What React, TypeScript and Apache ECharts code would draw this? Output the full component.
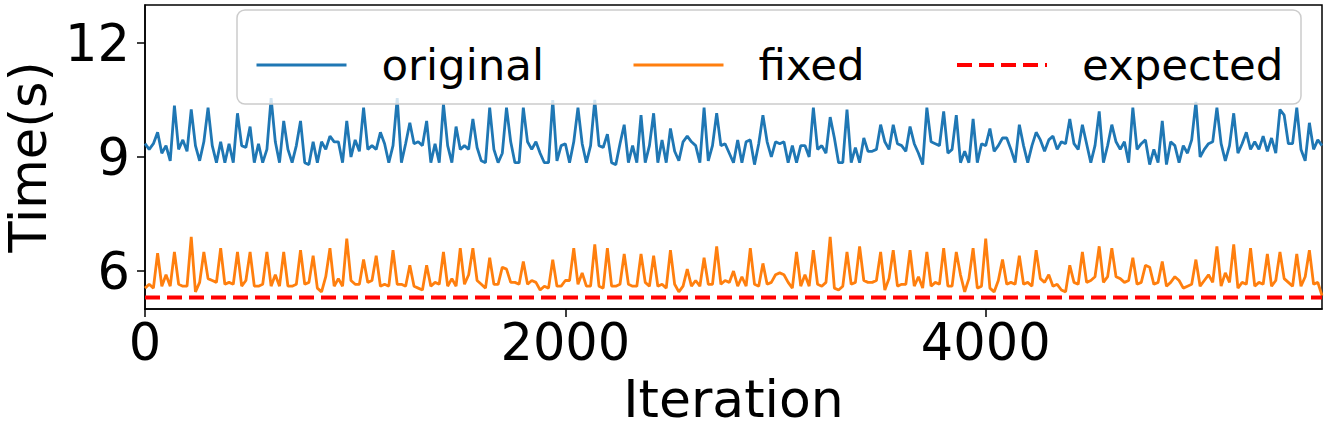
import React, { useEffect, useRef } from "react";
import * as echarts from "echarts";

// iteration step between recorded samples
const step = 20;

const original: number[] = [
  9.35, 9.2, 9.35, 9.65, 9.1, 9.3, 8.9, 10.35, 9.2, 9.45,
  9.15, 10.25, 9.3, 8.9, 9.4, 10.3, 9.3, 8.85, 9.4, 8.85,
  9.35, 8.85, 10.15, 9.3, 9.25, 9.8, 8.85, 9.35, 8.85, 9.2,
  10.55, 9.4, 8.85, 9.95, 9.2, 8.85, 9.3, 9.95, 8.85, 8.8,
  9.4,
  8.85, 9.4, 9.2, 9.55, 9.4, 9.4, 8.85, 9.95, 9.0, 9.45,
  9.15, 10.3, 9.2, 9.3, 9.2, 9.65, 9.35, 8.85, 9.3, 10.55,
  8.85, 9.35, 9.9, 9.35, 9.4, 9.3, 9.95, 8.85, 9.35, 8.85,
  10.4, 9.3, 8.85, 9.8, 9.2, 9.3, 9.2, 10.0, 9.25, 8.9,
  8.85, 10.3, 9.2, 8.85, 9.1, 10.3, 9.4, 8.85, 8.85, 10.3,
  9.4, 9.2, 9.4, 9.1, 8.85, 8.85, 10.5, 8.9, 9.3, 9.35,
  8.85, 9.4, 10.3, 9.35, 8.85, 9.3, 10.5, 9.3, 9.25, 9.6,
  8.85, 8.8, 9.35, 9.85, 8.85, 9.3, 8.85, 10.1, 8.85, 9.3,
  10.15, 8.85, 9.45, 8.85, 9.75, 9.15, 8.9, 9.4, 9.55, 9.4,
  9.3, 8.85, 10.3, 8.9, 9.3, 10.15, 9.3, 9.35, 9.1, 8.85,
  9.45, 8.85, 9.4, 9.45, 8.8, 9.35, 10.1, 9.4, 9.0, 9.4,
  9.35, 9.4, 8.85, 9.3, 8.85, 9.3, 9.3, 9.0, 10.3, 9.2,
  9.3, 9.1, 10.05, 9.5, 8.85, 8.85, 10.25, 8.85, 9.25, 8.85,
  9.5, 9.15, 9.15, 9.2, 9.85, 9.4, 9.2, 9.85, 9.35, 9.3,
  9.15, 9.8, 9.35, 9.1, 8.8, 10.3, 9.4, 9.35, 9.3, 10.2,
  9.1, 9.2, 10.1, 8.85, 9.15, 8.85, 10.0, 8.85, 9.35, 9.3,
  9.75, 9.15, 9.3, 9.5, 9.5, 9.2, 8.85, 9.85, 9.3, 8.85,
  9.3, 9.65, 9.45, 9.15, 9.45, 9.55, 9.2, 9.4, 9.35, 10.0,
  9.35, 9.2, 9.85, 9.35, 8.85, 9.3, 10.2, 8.85, 9.3, 9.85,
  9.4, 9.2, 9.4, 8.85, 10.3, 9.2, 9.35, 9.45, 8.8, 9.2,
  8.85, 9.95, 8.8, 9.4, 9.3, 8.85, 9.3, 9.1, 9.45, 10.45,
  9.0, 9.2, 9.35, 9.4, 10.3, 9.35, 8.9, 9.3, 10.15, 9.1,
  9.35, 9.65, 9.2, 9.4, 9.2, 9.55, 9.15, 9.5, 9.1, 10.25,
  10.1, 9.35, 9.35, 10.3, 9.2, 8.9, 9.9, 9.2, 9.45, 9.3,
];

const fixed: number[] = [
  5.55, 5.65, 5.55, 6.47, 5.6, 5.9, 5.6, 6.5, 5.65, 5.6,
  5.6, 6.9, 5.45, 5.7, 6.5, 5.8, 5.75, 5.7, 6.6, 5.65,
  5.7, 5.65, 6.5, 5.6, 5.75, 6.5, 5.6, 5.6, 5.65, 6.5,
  5.6, 5.9, 5.6, 6.5, 5.6, 5.6, 5.65, 6.55, 5.65, 5.7,
  6.4,
  5.55, 5.45, 5.85, 6.6, 5.6, 5.8, 5.6, 6.85, 5.75, 5.65,
  5.65, 6.3, 5.7, 5.75, 6.4, 5.6, 5.65, 5.6, 6.55, 5.65,
  5.65, 5.6, 6.15, 5.6, 5.55, 5.5, 6.15, 5.6, 5.7, 5.65,
  6.5, 5.6, 5.8, 5.6, 6.6, 5.65, 5.9, 6.6, 5.75, 5.65,
  5.55, 6.35, 5.65, 5.65, 6.1, 6.05, 5.7, 5.7, 5.65, 6.25,
  5.65, 5.75, 5.7, 5.5, 5.6, 5.55, 6.3, 5.6, 5.6, 5.75,
  5.75, 6.6, 5.65, 5.95, 5.6, 5.6, 6.7, 5.6, 5.55, 6.6,
  5.6, 5.6, 5.65, 6.45, 5.65, 5.6, 5.6, 6.45, 5.7, 5.6,
  6.4, 5.6, 5.65, 5.55, 6.55, 5.65, 5.45, 5.6, 6.05, 5.6,
  5.75, 5.6, 6.35, 5.65, 5.65, 6.65, 5.65, 5.75, 5.7, 6.0,
  5.6, 5.85, 5.6, 6.6, 5.65, 5.6, 6.2, 5.65, 5.7, 5.9,
  5.95, 5.9, 5.7, 5.55, 6.5, 5.6, 5.9, 5.6, 6.55, 5.65,
  5.6, 5.7, 6.9, 5.55, 5.5, 5.6, 6.5, 5.65, 5.7, 6.65,
  5.75, 5.7, 5.7, 5.75, 6.5, 5.5, 5.8, 6.55, 5.6, 5.65,
  5.65, 6.55, 5.6, 5.85, 5.55, 6.5, 5.6, 5.7, 5.65, 6.6,
  5.6, 5.6, 6.5, 5.9, 5.45, 5.8, 6.6, 5.55, 5.6, 6.85,
  5.55, 5.45, 5.75, 6.3, 5.65, 5.7, 5.65, 6.4, 5.65, 5.7,
  5.6, 6.55, 5.8, 5.7, 5.9, 5.6, 5.65, 5.5, 5.45, 6.15,
  5.7, 5.65, 6.5, 5.7, 5.75, 5.85, 6.65, 5.7, 5.85, 6.6,
  5.85, 5.8, 5.7, 5.75, 6.35, 5.65, 5.7, 6.15, 6.1, 5.65,
  5.7, 6.25, 5.6, 5.7, 5.85, 5.75, 5.55, 5.6, 5.65, 6.3,
  5.6, 5.75, 5.9, 5.7, 6.65, 5.6, 5.95, 5.7, 6.7, 5.55,
  5.7, 5.65, 6.6, 5.6, 5.7, 5.65, 6.45, 5.6, 5.75, 6.5,
  5.8, 5.7, 5.6, 6.45, 5.6, 5.85, 6.55, 5.65, 5.7, 5.35,
];

const expectedTime = 5.3;
const seriesNames = ["original", "fixed", "expected"];
const xTicks = [0, 2000, 4000];
const yTicks = [6, 9, 12];
const xMax = 5600;

const FONT = "DejaVu Sans";

export default function App() {
  const ref = useRef<HTMLDivElement>(null);

  useEffect(() => {
    document.body.style.margin = "0";
    if (!ref.current) return;
    const chart = echarts.init(ref.current, undefined, { renderer: "svg" });

    const origData = original.map((v, i) => [i * step, v]);
    const fixedData = fixed.map((v, i) => [i * step, v]);
    const expData = [
      [0, expectedTime],
      [xMax, expectedTime],
    ];

    const legendLefts = [255, 632, 955];
    const legendLines = [
      { color: "#1f77b4", width: 3, type: "solid" },
      { color: "#ff7f0e", width: 3, type: "solid" },
      { color: "#ff0000", width: 4, type: [15, 7] },
    ];

    chart.setOption({
      animation: false,
      backgroundColor: "#ffffff",
      textStyle: { fontFamily: FONT },
      grid: {
        left: 145,
        top: 5,
        width: 1177,
        height: 304,
        show: true,
        borderColor: "#000",
        borderWidth: 1.5,
        containLabel: false,
        outerBoundsMode: "none",
      },
      xAxis: {
        type: "value",
        min: 0,
        max: xMax,
        name: "Iteration",
        nameLocation: "middle",
        nameGap: 62,
        nameTextStyle: { fontSize: 52, color: "#000", fontFamily: FONT },
        axisLine: { show: true, lineStyle: { color: "#000", width: 1.5 } },
        axisTick: { show: true, customValues: xTicks, length: 8, lineStyle: { color: "#000", width: 1.5 } },
        axisLabel: {
          customValues: xTicks,
          fontSize: 51,
          color: "#000",
          margin: 8,
          fontFamily: FONT,
          formatter: (v: number) => String(v),
        },
        splitLine: { show: false },
      },
      yAxis: {
        type: "value",
        min: 5,
        max: 13,
        name: "Time(s)",
        nameLocation: "middle",
        nameGap: 85,
        nameTextStyle: { fontSize: 51, color: "#000", fontFamily: FONT },
        axisLine: { show: true, lineStyle: { color: "#000", width: 1.5 } },
        axisTick: { show: true, customValues: yTicks, length: 8, lineStyle: { color: "#000", width: 1.5 } },
        axisLabel: {
          customValues: yTicks,
          fontSize: 51,
          color: "#000",
          margin: 15,
          fontFamily: FONT,
          formatter: (v: number) => String(v),
        },
        splitLine: { show: false },
      },
      graphic: [
        {
          type: "rect",
          z: 15,
          shape: { x: 237, y: 10, width: 1064, height: 94, r: 8 },
          style: { fill: "rgba(255,255,255,0.8)", stroke: "#cccccc", lineWidth: 1.5 },
        },
      ],
      legend: seriesNames.map((n, k) => ({
        data: [n],
        left: legendLefts[k],
        top: 43,
        padding: 0,
        itemWidth: 90,
        itemHeight: 14,
        z: 20,
        itemStyle: { opacity: 0, borderWidth: 0 },
        lineStyle: legendLines[k],
        textStyle: { fontSize: 43.5, color: "#000", fontFamily: FONT, padding: [0, 0, 0, 30] },
      })),
      series: [
        {
          name: seriesNames[0],
          type: "line",
          data: origData,
          symbol: "none",
          lineStyle: { color: "#1f77b4", width: 2.8 },
          itemStyle: { color: "#1f77b4" },
          z: 2,
        },
        {
          name: seriesNames[1],
          type: "line",
          data: fixedData,
          symbol: "none",
          lineStyle: { color: "#ff7f0e", width: 2.8 },
          itemStyle: { color: "#ff7f0e" },
          z: 2,
        },
        {
          name: seriesNames[2],
          type: "line",
          data: expData,
          symbol: "none",
          lineStyle: { color: "#ff0000", width: 4, type: [15, 7] },
          itemStyle: { color: "#ff0000" },
          z: 3,
        },
      ],
    });

    return () => chart.dispose();
  }, []);

  return <div ref={ref} style={{ width: 1329, height: 439 }} />;
}
